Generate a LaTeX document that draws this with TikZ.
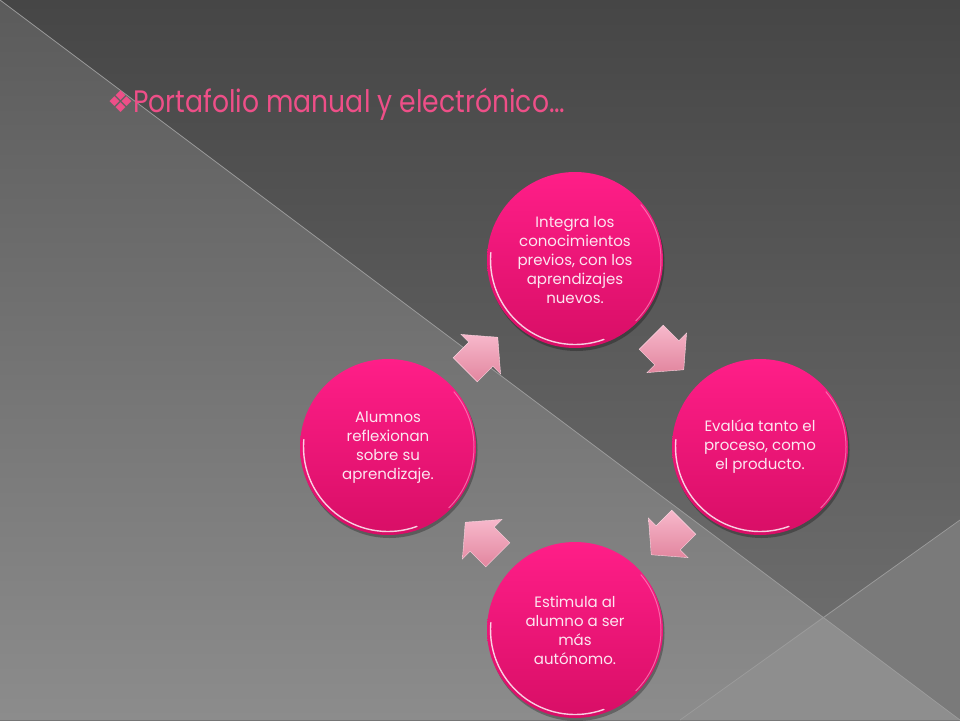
\documentclass[tikz,border=0pt]{standalone}
\usepackage{fontspec}
\setmainfont{Poppins}
\newfontfamily\symfont{DejaVu Sans}
\usetikzlibrary{calc}
\definecolor{bgtop}{HTML}{464646}
\definecolor{bgbot}{HTML}{727272}
\definecolor{lltop}{HTML}{5B5B5B}
\definecolor{llbot}{HTML}{8C8C8C}
\definecolor{rtri}{HTML}{7A7A7A}
\definecolor{btri}{HTML}{8E8E8E}
\definecolor{bubtop}{HTML}{FF1E88}
\definecolor{bubbot}{HTML}{D80E66}
\definecolor{bubtext}{HTML}{FCE6F0}
\definecolor{arrtop}{HTML}{F7B8CB}
\definecolor{arrbot}{HTML}{E2869F}
\definecolor{titlepink}{HTML}{EE4F88}
\definecolor{linegray}{HTML}{9C9C9C}
\begin{document}
\begin{tikzpicture}[x=1pt,y=-1pt,
  bubble/.style={circle, minimum size=176pt, inner sep=0pt,
    top color=bubtop, bottom color=bubbot, text=bubtext, align=center,
    font=\fontsize{15}{19}\selectfont,
    preaction={fill=black, fill opacity=0.28, transform canvas={xshift=1.5pt,yshift=-3pt}}},
  rim/.style={white, opacity=0.8, line width=1.4pt, line cap=round},
  rimr/.style={bubtop!45!white, opacity=0.6, line width=1pt, line cap=round},
  bgline/.style={linegray, line width=0.7pt},
  pics/barrow/.style={code={
    \shade[top color=arrtop, bottom color=arrbot, draw=arrtop!60!white, line width=0.4pt]
      (-23,-17) -- (-1,-17) -- (-1,-28) -- (23,0) -- (-1,28) -- (-1,17) -- (-23,17) -- cycle;}}
]
\useasboundingbox (0,0) rectangle (960,720);
% background
\shade[top color=bgtop, bottom color=bgbot] (0,0) rectangle (960,720);
\shade[top color=lltop, bottom color=llbot] (0,0) -- (960,720) -- (0,720) -- cycle;
\fill[rtri] (960,520) -- (960,720) -- (823,617) -- cycle;
\fill[btri] (823,617) -- (960,720) -- (680,720) -- cycle;
\draw[bgline] (0,0) -- (960,720);
\draw[bgline] (960,520) -- (680,720);
% title
\node[anchor=base west, inner sep=0pt, text=titlepink, font=\fontsize{31}{34}\selectfont] (title) at (107,112)
  {{\symfont\fontsize{30}{32}\selectfont ❖}\kern-1pt\scalebox{0.86}[1]{Portafolio manual y electrónico…}};
% bubbles
\node[bubble] (c1) at (575,260) {Integra los\\conocimientos\\previos, con los\\aprendizajes\\nuevos.};
\node[bubble] (c2) at (760,447) {Evalúa tanto el\\proceso, como\\el producto.};
\node[bubble] (c3) at (575,630) {Estimula al\\alumno a ser\\más\\autónomo.};
\node[bubble] (c4) at (388,447) {Alumnos\\reflexionan\\sobre su\\aprendizaje.};
% rims
\foreach \c in {c1,c2,c3,c4}{
  \draw[rim] ($(\c.center)+(175:84.5pt)$) arc[start angle=175, end angle=290, radius=84.5pt];
  \draw[rimr] ($(\c.center)+(-45:86pt)$) arc[start angle=-45, end angle=40, radius=86pt];
}
% arrows
\pic[rotate=-45] at ($(c1)!0.5!(c2)$) {barrow};
\pic[rotate=-135] at ($(c2)!0.5!(c3)$) {barrow};
\pic[rotate=135] at ($(c3)!0.5!(c4)$) {barrow};
\pic[rotate=45] at ($(c4)!0.5!(c1)$) {barrow};
\end{tikzpicture}
\end{document}
